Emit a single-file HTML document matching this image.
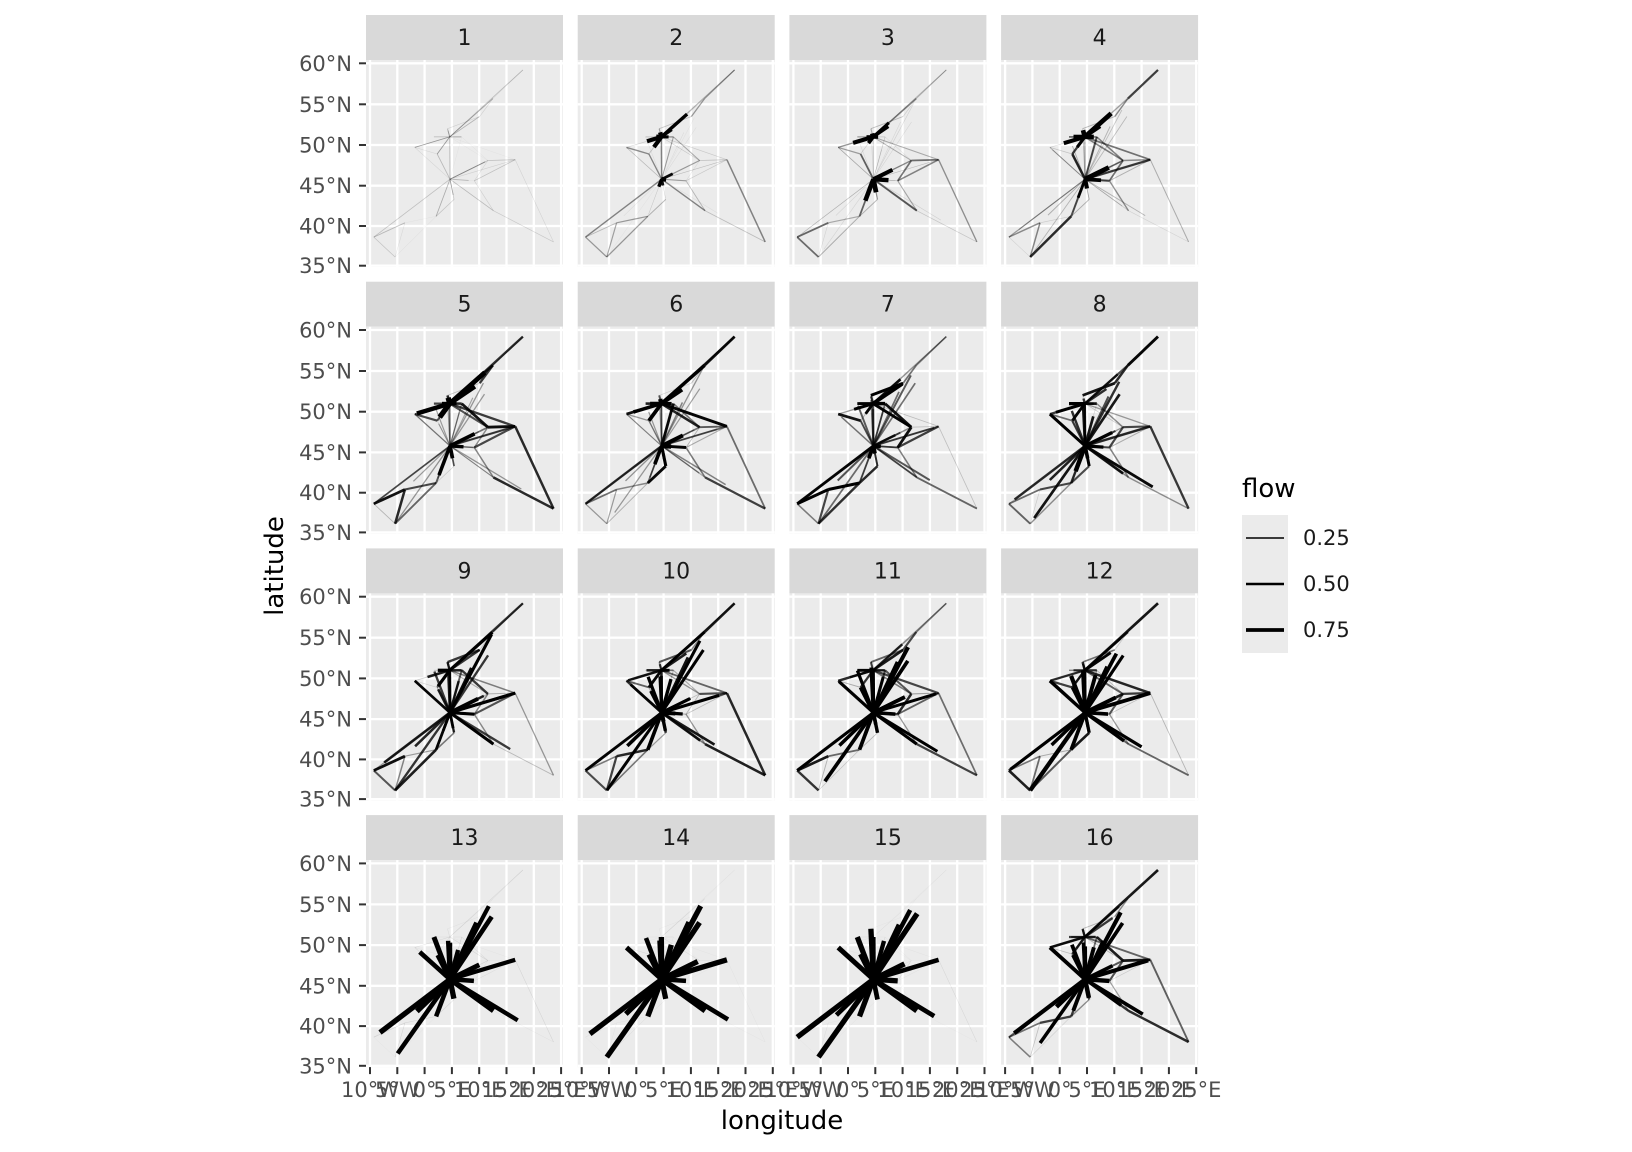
<!DOCTYPE html>
<html><head><meta charset="utf-8"><style>
html,body{margin:0;padding:0;background:#fff;}
svg{display:block;font-family:"DejaVu Sans","Liberation Sans",sans-serif;}
</style></head><body>
<svg id="s" width="1632" height="1152" viewBox="0 0 1632 1152" xmlns="http://www.w3.org/2000/svg">
<rect width="1632" height="1152" fill="#fff"/>
<g id="g"></g>
<text x="782" y="1129" font-size="26" text-anchor="middle" fill="#000">longitude</text>
<text transform="translate(283,566) rotate(-90)" font-size="26" text-anchor="middle" fill="#000">latitude</text>
<text x="1242" y="497" font-size="26" fill="#000">flow</text>
<rect x="1242" y="515" width="46" height="138" fill="#ebebeb"/>
<line x1="1246" x2="1284" y1="538" y2="538" stroke="#000" stroke-width="1.5"/>
<line x1="1246" x2="1284" y1="584" y2="584" stroke="#000" stroke-width="2.6"/>
<line x1="1246" x2="1284" y1="630" y2="630" stroke="#000" stroke-width="3.8"/>
<text x="1303" y="545" font-size="21" fill="#1a1a1a">0.25</text>
<text x="1303" y="591" font-size="21" fill="#1a1a1a">0.50</text>
<text x="1303" y="637" font-size="21" fill="#1a1a1a">0.75</text>
</svg>
<script>
(function(){
var g=document.getElementById('g');var out='';
var N={LIS:[-9.3,38.6],SEV:[-5.4,36.1],MAD:[-3.6,40.4],BCN:[2.1,41.2],CHE:[-1.8,49.7],CAL:[1.7,51.0],AMS:[4.2,52.0],BRU:[4.6,51.0],PAR:[2.3,48.9],CGN:[6.8,51.0],CPH:[12.5,55.7],HAM:[10.1,53.5],STO:[18,59.2],MUC:[11.6,48.1],VIE:[16.6,48.2],MIL:[9.1,45.6],MRS:[5.4,43.3],ROM:[12.6,41.9],ATH:[23.6,38],LYO:[4.65,45.8]};
var latT=[[60,3.3],[55,44.3],[50,85],[45,125.7],[40,166],[35,205.7]];
function ly(lat){for(var i=0;i<5;i++){var a=latT[i],b=latT[i+1];if(lat<=a[0]&&lat>=b[0])return a[1]+(a[0]-lat)/(a[0]-b[0])*(b[1]-a[1]);}return lat>60?3.3-(lat-60)*8.2:205.7+(35-lat)*8;}
var thin=[["LIS","SEV"],["LIS","MAD"],["SEV","MAD"],["MAD","BCN"],["BCN","LYO"],["LIS","LYO"],["SEV","BCN"],["CHE","PAR"],["CHE","BRU"],["CHE","LYO"],["PAR","BRU"],["PAR","LYO"],["BRU","AMS"],["BRU","CGN"],["BRU","CAL"],["AMS","HAM"],["HAM","CPH"],["BRU","CPH"],["CPH","STO"],["BRU","STO"],["CGN","MUC"],["MUC","VIE"],["LYO","MIL"],["MIL","MUC"],["MIL","ROM"],["ROM","ATH"],["LYO","MRS"],["MRS","BCN"],["MIL","VIE"],["VIE","ATH"],["BRU","LYO"],["CGN","LYO"],["BRU","VIE"],["LYO","VIE"],["LYO","ROM"],["BRU","MUC"],["LYO","MUC"]];
var bruS=["CHE","CAL","CGN","AMS","PAR","HAM","CPH"];
var lyoS=["MIL","MRS","BCN","MUC"];
var star={LIS:1,SEV:1,MAD:.8,BCN:1,CHE:1,CAL:.9,AMS:.8,BRU:1,PAR:1,CGN:.8,CPH:.85,HAM:.8,STO:.5,MUC:.8,VIE:1,MIL:1,MRS:1,ROM:1,ATH:.6};
var cfg=[[0.08,0.12,1,0.15,1,0,0],[0.15,0.85,0.5,0.7,0.3,0.04,1],[0.2,0.85,0.5,0.85,0.5,0.06,1],[0.28,0.85,0.7,0.85,0.6,0.12,1],
[0.32,0.95,0.8,0.9,0.6,0.18,1],[0.35,0.75,0.9,0.8,0.5,0.22,1],[0.35,0.65,0.9,0.75,0.5,0.3,1],[0.35,0.65,0.9,0.8,0.6,0.45,1],
[0.32,0.55,1,0.75,0.6,0.5,1],[0.3,0.55,1,0.75,0.6,0.58,1],[0.3,0.5,1,0.75,0.6,0.65,1],[0.3,0.5,1,0.75,0.6,0.7,1],
[0.04,0,0,0,0,0.95,1.0],[0.03,0,0,0,0,1,1.1],[0.03,0,0,0,0,1,1.15],[0.3,0.45,1,0,0,0.75,0.9]];
var lons=[-10,-5,0,5,10,15,20,25],lonL=["10°W","5°W","0°","5°E","10°E","15°E","20°E","25°E"];
var seed=7;function rnd(){seed=(seed*9301+49297)%233280;return seed/233280;}
for(var k=0;k<16;k++){
 var r=Math.floor(k/4),c=k%4;var x0=366+c*211.7,sy=15+r*266.7,py=60+r*266.7,W=197,H=207;
 out+='<rect x="'+x0+'" y="'+sy+'" width="'+W+'" height="45" fill="#d9d9d9"/>';
 out+='<text x="'+(x0+W/2)+'" y="'+(sy+30)+'" font-size="22" text-anchor="middle" fill="#1a1a1a">'+(k+1)+'</text>';
 out+='<rect x="'+x0+'" y="'+py+'" width="'+W+'" height="'+H+'" fill="#ebebeb"/>';
 function X(l){return x0+4+(l+10)*5.46;}function Y(l){return py+ly(l);}
 for(var i=0;i<8;i++){var xx=X(lons[i]);out+='<line x1="'+xx+'" x2="'+xx+'" y1="'+py+'" y2="'+(py+H)+'" stroke="#fff" stroke-width="2.3"/>';}
 for(var i=0;i<6;i++){var yy=py+latT[i][1];out+='<line x1="'+x0+'" x2="'+(x0+W)+'" y1="'+yy+'" y2="'+yy+'" stroke="#fff" stroke-width="2.3"/>';}
 var cf=cfg[k];seed=11+k*3;var segs=[];
 function add(a,b,f,fr){if(f<=0)return;segs.push([a,b,Math.min(1,f),fr]);}
 thin.forEach(function(p){add(p[0],p[1],cf[0]*(0.2+rnd()*1.4),1);});
 bruS.forEach(function(t){add("BRU",t,cf[1]*(0.6+rnd()*0.5),Math.min(1,cf[2]*(0.6+rnd()*0.6)));});
 lyoS.forEach(function(t){add("LYO",t,cf[3]*(0.6+rnd()*0.5),Math.min(1,cf[4]*(0.6+rnd()*0.8)));});
 for(var t in star){add("LYO",t,cf[5]*(0.8+rnd()*0.35),Math.min(1,cf[6]*star[t]*(0.85+rnd()*0.3)));}
 segs.sort(function(a,b){return a[2]-b[2];});
 segs.forEach(function(s){var A=N[s[0]],B=N[s[1]];var x1=X(A[0]),y1=Y(A[1]),x2=X(B[0]),y2=Y(B[1]);
  x2=x1+(x2-x1)*s[3];y2=y1+(y2-y1)*s[3];var f=s[2];
  var op=Math.max(0.05,Math.min(1,f*1.9));
  out+='<line x1="'+x1.toFixed(1)+'" y1="'+y1.toFixed(1)+'" x2="'+x2.toFixed(1)+'" y2="'+y2.toFixed(1)+'" stroke="#000" stroke-opacity="'+op.toFixed(2)+'" stroke-width="'+(0.3+f*5).toFixed(2)+'"/>';});
 if(c==0){for(var i=0;i<6;i++){var yy=py+latT[i][1];out+='<line x1="359" x2="366" y1="'+yy+'" y2="'+yy+'" stroke="#333" stroke-width="2"/>';
  out+='<text x="352" y="'+(yy+7.5)+'" font-size="21" text-anchor="end" fill="#4d4d4d">'+latT[i][0]+'°N</text>';}}
 if(r==3){for(var i=0;i<8;i++){var xx=X(lons[i]);out+='<line x1="'+xx+'" x2="'+xx+'" y1="'+(py+H)+'" y2="'+(py+H+7)+'" stroke="#333" stroke-width="2"/>';
  out+='<text x="'+xx+'" y="1097" font-size="21" text-anchor="middle" fill="#4d4d4d">'+lonL[i]+'</text>';}}
}
g.innerHTML=out;
})();
</script>
</body></html>
